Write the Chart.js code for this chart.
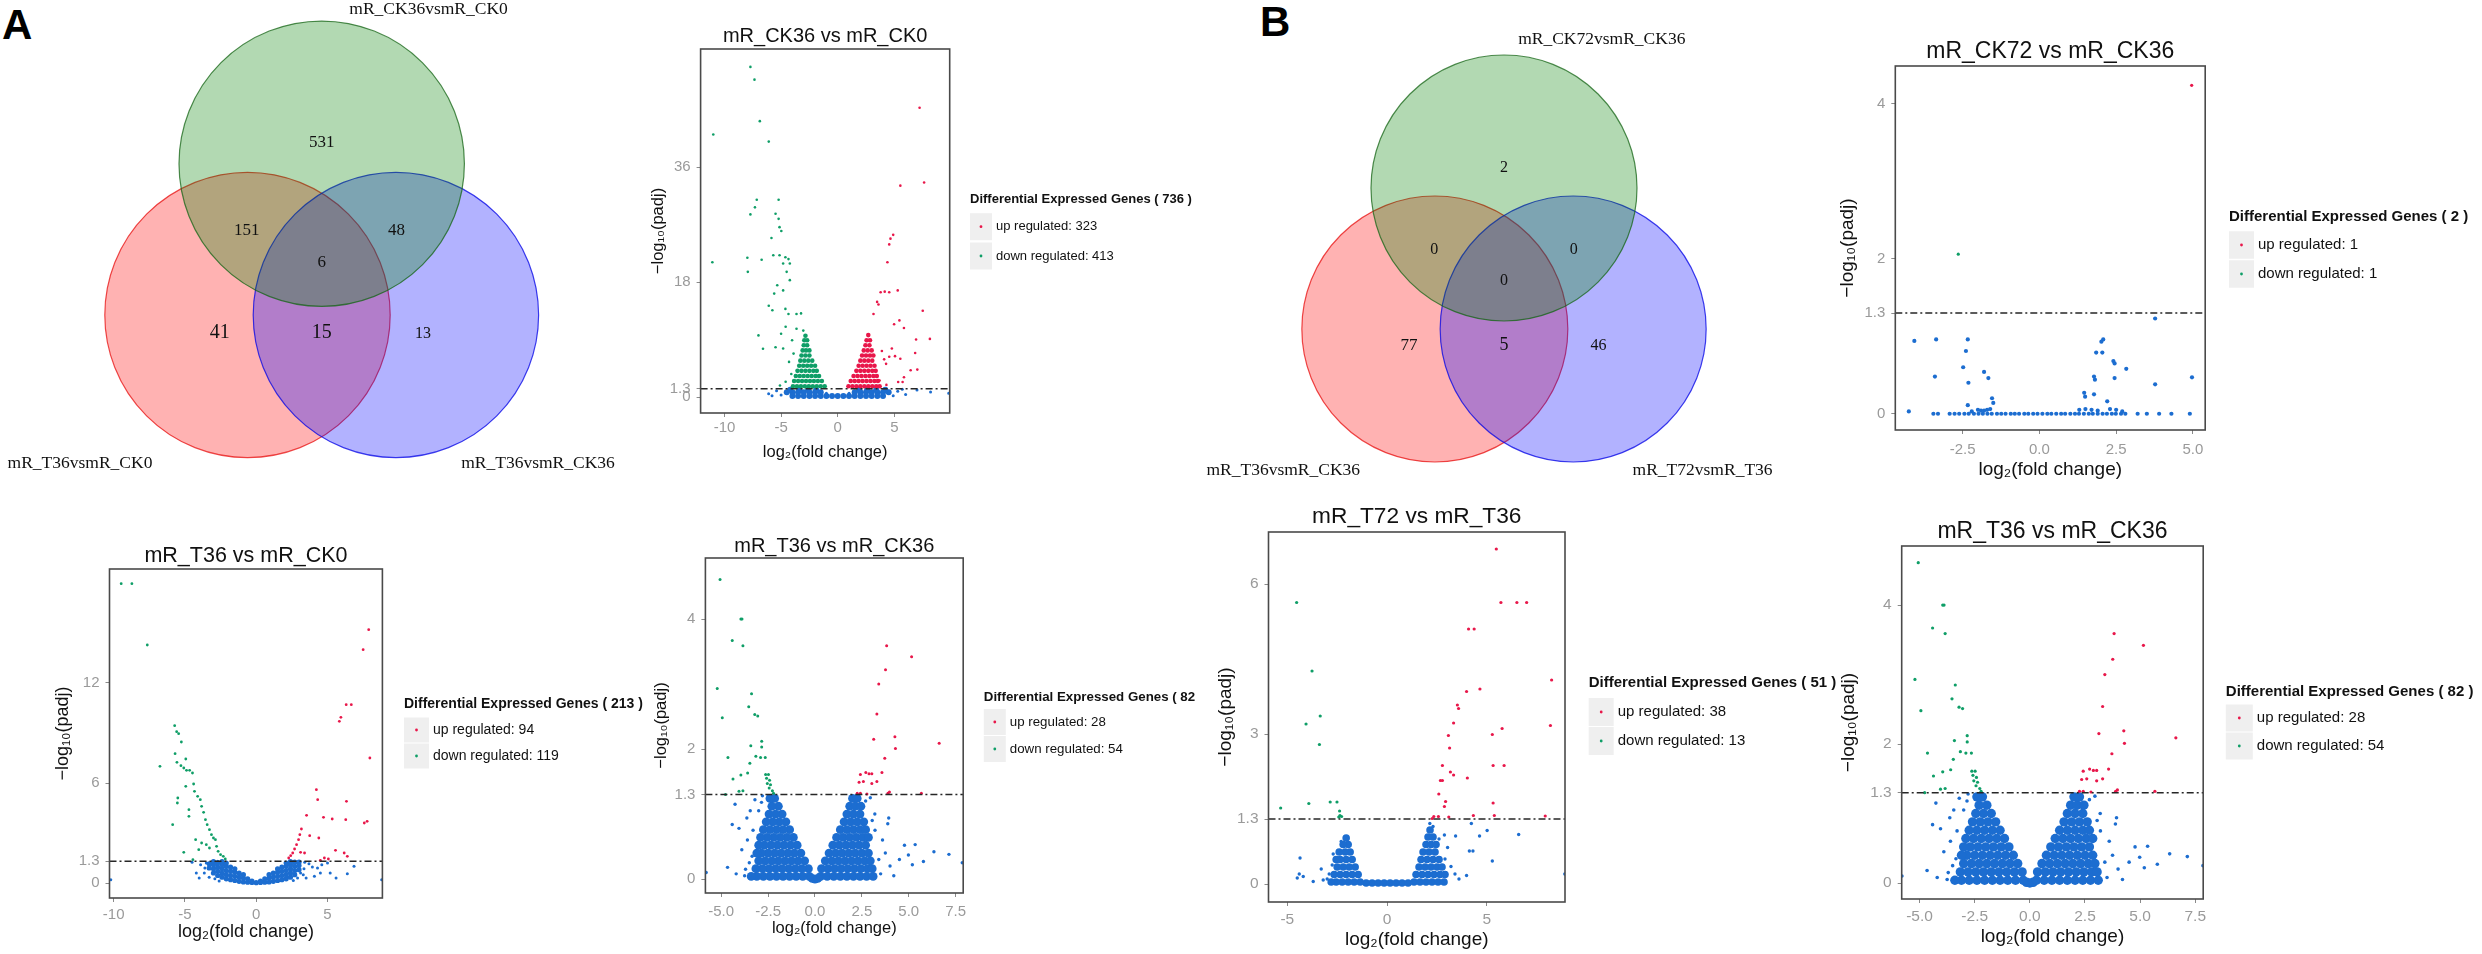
<!DOCTYPE html>
<html>
<head>
<meta charset="utf-8">
<script src="https://cdn.jsdelivr.net/npm/chart.js@4.4.1/dist/chart.umd.min.js"></script>
<style>
  html, body { margin: 0; padding: 0; background: #fff; }
  body { width: 2482px; height: 954px; position: relative; overflow: hidden; }
  canvas { position: absolute; }
  .letter { position: absolute; font: bold 42px 'Liberation Sans', Arial, sans-serif; line-height: 1; color: #000; }
</style>
</head>
<body>
<div class="letter" style="left:2px;top:4px">A</div>
<div class="letter" style="left:1260px;top:1px">B</div>
<script>
// ---------- Venn data ----------
const vennSetsA = ['mR_CK36vsmR_CK0', 'mR_T36vsmR_CK0', 'mR_T36vsmR_CK36'];
const vennCountsA = [531, 151, 48, 6, 41, 15, 13];
const vennSetsB = ['mR_CK72vsmR_CK36', 'mR_T36vsmR_CK36', 'mR_T72vsmR_T36'];
const vennCountsB = [2, 0, 0, 0, 77, 5, 46];

// ---------- volcano data: [log2FC, -log10 padj] ----------
const PADJ_CUT = 1.3;

// mR_CK36 vs mR_CK0
const a1Up = [[7.23,45.3],[7.63,33.6],[5.53,33.1],[4.9,25.4],[4.66,24.8],[4.55,23.9],[4.39,21.1],[3.79,16.4],[4.15,16.5],[4.55,16.4],[5.3,16.7],[3.48,14.9],[3.6,14.5],[7.51,13.5],[3.16,13.0],[5.45,12.0],[4.98,11.4],[5.85,10.8],[6.92,9.0],[8.14,9.1],[4.78,7.6],[6.84,6.9],[4.55,6.3],[5.06,6.4],[5.53,6.0],[4.27,5.2],[7.03,4.3],[6.44,4.2],[5.85,3.1],[5.34,2.35],[5.73,2.35],[3.9,7.2],[4.1,5.9],[3.7,2.6],[4.3,1.9]];
const a1UpCore = [[0.95,1.7],[1.3,1.7],[1.65,1.7],[2.0,1.7],[2.35,1.7],[2.7,1.7],[3.05,1.7],[3.4,1.7],[3.7,1.7],
  [1.15,2.5],[1.5,2.5],[1.85,2.5],[2.2,2.5],[2.55,2.5],[2.9,2.5],[3.25,2.5],[3.55,2.5],
  [1.4,3.3],[1.75,3.3],[2.1,3.3],[2.45,3.3],[2.8,3.3],[3.15,3.3],[3.45,3.3],
  [1.65,4.1],[2.0,4.1],[2.35,4.1],[2.7,4.1],[3.05,4.1],[3.35,4.1],
  [1.85,4.9],[2.2,4.9],[2.55,4.9],[2.9,4.9],[3.25,4.9],
  [2.0,5.7],[2.35,5.7],[2.7,5.7],[3.05,5.7],
  [2.15,6.5],[2.5,6.5],[2.85,6.5],[3.15,6.5],
  [2.3,7.3],[2.65,7.3],[3.0,7.3],[2.45,8.1],[2.8,8.1],[2.55,8.9],[2.85,8.9],[2.7,9.7]];
const a1Down = [[-7.71,51.7],[-7.35,49.7],[-6.88,43.2],[-10.99,41.1],[-6.09,40.0],[-7.15,30.9],[-5.22,30.9],[-7.31,29.7],[-7.71,28.6],[-5.49,28.7],[-5.22,27.9],[-5.14,26.6],[-4.98,26.0],[-5.85,24.9],[-11.07,21.1],[-7.98,21.8],[-7.94,19.6],[-6.72,21.5],[-5.69,22.2],[-5.14,22.2],[-4.62,21.9],[-4.35,21.6],[-4.82,20.9],[-4.23,20.9],[-4.51,19.6],[-5.34,17.5],[-4.23,18.3],[-5.61,16.2],[-4.82,16.7],[-6.09,14.3],[-5.77,13.6],[-4.62,13.8],[-4.35,13.0],[-3.64,13.0],[-3.24,13.1],[-7.0,9.65],[-6.6,7.56],[-5.49,7.8],[-4.82,7.6],[-4.03,8.9],[-5.0,9.9],[-4.6,11.0],[-3.64,10.7],[-3.04,10.4],[-4.3,5.5],[-3.9,6.8],[-4.1,3.6],[-4.6,2.4],[-5.1,1.8]];
const a1DownCore = [[-3.95,1.7],[-3.6,1.7],[-3.25,1.7],[-2.9,1.7],[-2.55,1.7],[-2.2,1.7],[-1.85,1.7],[-1.5,1.7],[-1.15,1.7],
  [-3.85,2.5],[-3.5,2.5],[-3.15,2.5],[-2.8,2.5],[-2.45,2.5],[-2.1,2.5],[-1.75,2.5],[-1.4,2.5],
  [-3.7,3.3],[-3.35,3.3],[-3.0,3.3],[-2.65,3.3],[-2.3,3.3],[-1.95,3.3],[-1.65,3.3],
  [-3.55,4.1],[-3.2,4.1],[-2.85,4.1],[-2.5,4.1],[-2.15,4.1],[-1.85,4.1],
  [-3.4,4.9],[-3.05,4.9],[-2.7,4.9],[-2.35,4.9],[-2.0,4.9],
  [-3.3,5.7],[-2.95,5.7],[-2.6,5.7],[-2.25,5.7],
  [-3.2,6.5],[-2.85,6.5],[-2.5,6.5],[-3.1,7.3],[-2.8,7.3],[-2.5,7.3],
  [-3.0,8.1],[-2.7,8.1],[-2.95,8.9],[-2.7,8.9],[-2.85,9.6]];
const a1NsCore = [[-4.0,0.15],[-3.5,0.15],[-3.0,0.15],[-2.5,0.15],[-2.0,0.15],[-1.5,0.15],[-1.0,0.15],[-0.5,0.15],[0,0.15],[0.5,0.15],[1.0,0.15],[1.5,0.15],[2.0,0.15],[2.5,0.15],[3.0,0.15],[3.5,0.15],[4.0,0.15],
  [-4.5,0.75],[-4.0,0.75],[-3.5,0.75],[-3.0,0.75],[-2.5,0.75],[-2.0,0.75],[-1.5,0.75],[1.5,0.75],[2.0,0.75],[2.5,0.75],[3.0,0.75],[3.5,0.75],[4.0,0.75],[4.5,0.75],
  [-4.2,1.15],[-3.4,1.15],[-2.6,1.15],[-1.9,1.15],[1.9,1.15],[2.6,1.15],[3.4,1.15],[4.2,1.15]];
const a1NsSparse = [[-5.4,1.0],[-6.1,0.5],[-5.0,0.3],[-5.8,0.2],[5.3,0.9],[6.0,0.4],[7.0,1.1],[8.2,0.8],[9.8,0.6],[5.7,1.2],[4.9,0.2],[-1.0,0.6],[1.0,0.6]];

// mR_T36 vs mR_CK0
const a2Up = [[7.89,15.2],[7.5,14.0],[6.31,10.7],[6.67,10.7],[5.94,9.94],[5.83,9.7],[7.97,7.5],[4.22,5.6],[4.31,5.0],[6.33,4.9],[4.72,3.94],[5.33,3.84],[6.28,3.8],[7.58,3.6],[7.78,3.7],[3.53,4.06],[3.17,3.24],[3.06,2.9],[3.75,2.84],[4.39,2.7],[2.97,2.6],[2.83,2.3],[2.69,2.04],[2.56,1.8],[2.42,1.64],[2.28,1.5],[3.11,1.84],[3.39,1.8],[5.56,1.96],[6.17,1.8],[4.78,1.5],[5.06,1.44],[4.5,1.36],[6.39,1.6]];
const a2Down = [[-9.47,17.96],[-8.72,17.96],[-7.64,14.28],[-5.72,9.44],[-5.58,9.08],[-5.44,8.96],[-5.25,8.46],[-5.69,7.76],[-5.56,7.24],[-4.94,7.44],[-6.75,7.0],[-5.28,7.04],[-5.08,6.9],[-4.89,6.76],[-4.67,6.76],[-4.47,6.6],[-4.94,5.8],[-4.39,5.94],[-4.33,5.5],[-4.11,5.2],[-3.92,5.0],[-3.83,4.6],[-5.5,5.1],[-5.53,4.8],[-4.72,4.4],[-4.72,4.0],[-3.69,4.24],[-3.56,3.8],[-3.44,3.5],[-5.86,3.5],[-3.28,3.2],[-3.14,2.9],[-3.0,2.7],[-2.86,2.6],[-4.25,2.6],[-3.83,2.4],[-4.03,2.0],[-3.5,2.3],[-3.28,2.1],[-2.78,2.2],[-2.67,1.9],[-2.5,1.7],[-2.31,1.6],[-2.17,1.44],[-5.08,1.84],[-4.44,1.4]];
const a2NsCore = [[0,0.02],[-0.3,0.03],[-0.3,0.12],[-0.6,0.05],[-0.6,0.25],[-0.9,0.06],[-0.9,0.3],[-0.9,0.5],[-1.2,0.1],[-1.2,0.35],[-1.2,0.6],[-1.5,0.15],[-1.5,0.4],[-1.5,0.65],[-1.5,0.85],[-1.8,0.2],[-1.8,0.45],[-1.8,0.7],[-1.8,0.95],[-2.1,0.25],[-2.1,0.5],[-2.1,0.75],[-2.1,1.0],[-2.1,1.2],[-2.4,0.35],[-2.4,0.6],[-2.4,0.85],[-2.4,1.1],[-2.4,1.28],[-2.7,0.45],[-2.7,0.7],[-2.7,0.95],[-2.7,1.2],[-3.0,0.6],[-3.0,0.85],[-3.0,1.1],[-3.0,1.28],[-3.3,0.9],[-3.3,1.15],
  [0.3,0.03],[0.3,0.12],[0.6,0.05],[0.6,0.25],[0.9,0.06],[0.9,0.3],[0.9,0.5],[1.2,0.1],[1.2,0.35],[1.2,0.6],[1.5,0.15],[1.5,0.4],[1.5,0.65],[1.5,0.85],[1.8,0.2],[1.8,0.45],[1.8,0.7],[1.8,0.95],[2.1,0.25],[2.1,0.5],[2.1,0.75],[2.1,1.0],[2.1,1.2],[2.4,0.35],[2.4,0.6],[2.4,0.85],[2.4,1.1],[2.4,1.28],[2.7,0.5],[2.7,0.75],[2.7,1.0],[2.7,1.25],[3.0,0.8],[3.0,1.05],[3.0,1.25]];
const a2NsSparse = [[-3.64,0.6],[-3.3,0.35],[-2.9,0.25],[-2.6,0.12],[-3.9,1.1],[-4.2,0.6],[-4.5,1.25],[-4.0,0.3],[-3.6,0.9],[-3.5,1.2],[3.11,0.6],[3.94,0.96],[4.08,0.4],[4.5,0.6],[4.6,1.1],[5.19,0.6],[5.6,0.3],[6.39,0.56],[6.86,1.0],[5.0,1.2],[3.4,1.25],[3.5,0.3],[3.3,0.5],[2.9,0.3],[2.6,0.15],[4.3,0.9],[3.7,1.15],[3.35,0.85],[-10.2,0.2],[8.8,0.2],[-2.7,1.3]];

// mR_T36 vs mR_CK36 (shown in A and B)
const t36Up = [[3.82,3.59],[5.15,3.42],[3.76,3.22],[3.4,3.0],[3.3,2.54],[3.13,2.15],[4.26,2.19],[6.62,2.09],[4.29,2.01],[3.72,1.86],[3.57,1.64],[2.42,1.61],[2.71,1.64],[2.88,1.62],[3.03,1.62],[2.35,1.49],[2.58,1.5],[3.03,1.47],[3.3,1.5],[2.25,1.32],[2.42,1.32],[2.77,1.31],[3.89,1.32],[5.67,1.32],[3.97,1.34]];
const t36Down = [[-5.06,4.61],[-3.95,4.0],[-3.89,4.0],[-4.41,3.67],[-3.84,3.59],[-5.21,2.93],[-3.38,2.85],[-4.94,2.48],[-3.53,2.65],[-3.21,2.53],[-3.05,2.51],[-2.84,2.12],[-3.42,2.05],[-2.84,2.03],[-4.64,1.87],[-3.15,1.89],[-2.9,1.87],[-2.65,1.87],[-3.47,1.78],[-4.37,1.54],[-3.95,1.6],[-3.59,1.63],[-3.84,1.36],[-4.05,1.35],[-2.63,1.61],[-2.48,1.61],[-2.58,1.55],[-2.42,1.52],[-2.54,1.47],[-2.37,1.45],[-2.44,1.4],[-2.27,1.36],[-2.21,1.32],[-4.77,1.3]];
const t36NsCore = [[0,0.0],[-0.15,0.01],[0.15,0.01],
  [-0.3,0.04],[-0.65,0.04],[-1.0,0.04],[-1.35,0.04],[-1.7,0.04],[-2.05,0.04],[-2.4,0.04],[-2.75,0.04],[-3.1,0.04],[-3.4,0.04],
  [-0.35,0.16],[-0.7,0.16],[-1.05,0.16],[-1.4,0.16],[-1.75,0.16],[-2.1,0.16],[-2.45,0.16],[-2.8,0.16],[-3.15,0.16],
  [-0.55,0.28],[-0.9,0.28],[-1.25,0.28],[-1.6,0.28],[-1.95,0.28],[-2.3,0.28],[-2.65,0.28],[-3.0,0.28],
  [-0.75,0.4],[-1.1,0.4],[-1.45,0.4],[-1.8,0.4],[-2.15,0.4],[-2.5,0.4],[-2.85,0.4],[-3.1,0.4],
  [-0.95,0.52],[-1.3,0.52],[-1.65,0.52],[-2.0,0.52],[-2.35,0.52],[-2.7,0.52],[-3.0,0.52],
  [-1.15,0.64],[-1.5,0.64],[-1.85,0.64],[-2.2,0.64],[-2.55,0.64],[-2.9,0.64],
  [-1.35,0.76],[-1.7,0.76],[-2.05,0.76],[-2.4,0.76],[-2.75,0.76],
  [-1.55,0.88],[-1.9,0.88],[-2.25,0.88],[-2.6,0.88],
  [-1.75,1.0],[-2.1,1.0],[-2.45,1.0],[-1.95,1.12],[-2.3,1.12],[-2.15,1.24],[-2.4,1.24],
  [0.3,0.04],[0.65,0.04],[1.0,0.04],[1.35,0.04],[1.7,0.04],[2.05,0.04],[2.4,0.04],[2.75,0.04],[3.1,0.04],
  [0.35,0.16],[0.7,0.16],[1.05,0.16],[1.4,0.16],[1.75,0.16],[2.1,0.16],[2.45,0.16],[2.8,0.16],[3.05,0.16],
  [0.55,0.28],[0.9,0.28],[1.25,0.28],[1.6,0.28],[1.95,0.28],[2.3,0.28],[2.65,0.28],[2.95,0.28],
  [0.75,0.4],[1.1,0.4],[1.45,0.4],[1.8,0.4],[2.15,0.4],[2.5,0.4],[2.85,0.4],
  [0.95,0.52],[1.3,0.52],[1.65,0.52],[2.0,0.52],[2.35,0.52],[2.7,0.52],
  [1.15,0.64],[1.5,0.64],[1.85,0.64],[2.2,0.64],[2.55,0.64],[2.85,0.64],
  [1.35,0.76],[1.7,0.76],[2.05,0.76],[2.4,0.76],[2.7,0.76],
  [1.55,0.88],[1.9,0.88],[2.25,0.88],[2.6,0.88],
  [1.7,1.0],[2.05,1.0],[2.4,1.0],[1.85,1.12],[2.15,1.12],[2.45,1.12],[2.0,1.24],[2.25,1.24]];
const t36NsSparse = [[-4.66,0.18],[-4.41,0.84],[-4.05,0.78],[-4.26,1.15],[-3.63,0.94],[-3.0,1.05],[-3.9,0.45],[-3.5,0.25],[-3.7,0.15],[-3.6,0.6],[-3.3,0.75],[-3.45,1.05],[-3.2,1.22],[-2.85,1.18],[-4.2,0.08],[-3.75,0.05],[-2.8,1.28],[-3.35,0.35],
  [3.19,1.0],[3.93,0.94],[3.88,0.85],[4.77,0.52],[5.34,0.53],[4.98,0.37],[6.34,0.42],[7.14,0.38],[5.78,0.27],[5.19,0.22],[4.5,0.3],[4.0,0.2],[3.6,0.6],[2.7,1.2],[3.2,0.75],[3.4,0.3],[3.5,0.08],[3.05,0.9],[2.95,1.25],[3.75,0.4],[4.2,0.05],[7.85,0.25],[-5.8,0.1]];

// mR_CK72 vs mR_CK36
const b1Up = [[4.96,4.24]];
const b1Down = [[-2.64,2.06]];
const b1Ns = [[-4.07,0.94],[-3.36,0.96],[-3.4,0.48],[-4.25,0.03],[-3.45,0],[-3.3,0],[-2.33,0.96],[-2.39,0.81],[-2.48,0.6],[-2.31,0.4],[-2.33,0.11],[-1.8,0.54],[-1.66,0.46],[-1.54,0.2],[-1.5,0.14],[-1.9,0.04],[-1.7,0.05],
  [2.08,0.96],[2.02,0.93],[1.85,0.79],[2.05,0.79],[2.41,0.68],[2.45,0.65],[2.83,0.58],[1.78,0.48],[1.81,0.44],[2.45,0.46],[1.46,0.27],[1.49,0.22],[1.78,0.25],[2.21,0.16],[3.77,1.23],[3.77,0.38],[4.97,0.47],
  [-2.92,0],[-2.76,0],[-2.61,0],[-2.44,0],[-2.3,0],[-2.13,0],[-1.98,0],[-1.84,0],[-1.69,0],[-1.55,0],[-1.38,0],[-1.24,0],[-1.1,0],[-0.93,0],[-0.8,0],[-0.66,0],[-0.49,0],[-0.36,0],[-0.2,0],[-0.06,0],[0.1,0],[0.26,0],[0.39,0],[0.55,0],[0.71,0],[0.84,0],[1.01,0],[1.16,0],[1.29,0],[1.45,0],[1.61,0],[1.74,0],[1.9,0],[2.06,0],[2.2,0],[2.36,0],[2.49,0],[2.66,0],[2.8,0],[3.2,0],[3.5,0],[3.9,0],[4.3,0],[4.9,0],
  [-2.2,0.03],[-2.0,0.05],[-1.8,0.04],[-1.6,0.06],[1.3,0.05],[1.5,0.06],[1.7,0.05],[1.9,0.04],[2.3,0.06],[2.5,0.05],[2.7,0.03]];

// mR_T72 vs mR_T36
const b2Up = [[5.47,6.7],[5.7,5.63],[6.5,5.63],[6.99,5.63],[4.08,5.1],[4.36,5.1],[8.24,4.08],[4.65,3.9],[3.98,3.85],[3.52,3.58],[3.58,3.51],[3.33,3.22],[5.76,3.11],[8.18,3.17],[3.07,2.97],[5.27,2.99],[3.13,2.72],[2.77,2.37],[5.31,2.37],[5.86,2.37],[3.17,2.24],[3.33,2.18],[4.02,2.12],[2.67,2.07],[2.77,2.07],[2.59,1.8],[2.93,1.65],[2.87,1.55],[5.31,1.62],[2.34,1.35],[2.57,1.35],[3.09,1.34],[4.32,1.37],[5.37,1.37],[7.92,1.36],[2.26,1.31]];
const b2Down = [[-4.53,5.63],[-3.76,4.26],[-3.35,3.36],[-4.06,3.2],[-3.39,2.79],[-5.33,1.52],[-3.92,1.61],[-2.85,1.64],[-2.51,1.64],[-2.38,1.46],[-2.36,1.37],[-2.28,1.35],[-2.42,1.34]];
const b2NsCore = [[-1.05,0.02],[-0.75,0.02],[-0.45,0.02],[-0.15,0.02],[0.15,0.02],[0.45,0.02],[0.75,0.02],[1.05,0.02],
  [-1.35,0.04],[-1.65,0.04],[-1.95,0.04],[-2.25,0.04],[-2.55,0.04],[-2.8,0.04],
  [-1.45,0.19],[-1.75,0.19],[-2.05,0.19],[-2.35,0.19],[-2.65,0.19],
  [-1.6,0.34],[-1.9,0.34],[-2.2,0.34],[-2.5,0.34],[-1.75,0.49],[-2.05,0.49],[-2.35,0.49],[-2.55,0.49],
  [-1.85,0.64],[-2.1,0.64],[-2.4,0.64],[-1.95,0.79],[-2.2,0.79],[-2.05,0.92],
  [1.35,0.04],[1.65,0.04],[1.95,0.04],[2.25,0.04],[2.55,0.04],[2.85,0.04],
  [1.45,0.19],[1.75,0.19],[2.05,0.19],[2.35,0.19],[2.65,0.19],[2.9,0.19],
  [1.6,0.34],[1.9,0.34],[2.2,0.34],[2.5,0.34],[2.75,0.34],[1.7,0.49],[2.0,0.49],[2.3,0.49],[2.6,0.49],
  [1.8,0.64],[2.1,0.64],[2.4,0.64],[1.95,0.79],[2.2,0.79],[2.45,0.79],[2.05,0.94],[2.3,0.94],[2.15,1.08]];
const b2NsSparse = [[-4.36,0.52],[-4.4,0.2],[-4.2,0.15],[-4.5,0.12],[-3.7,0.05],[-3.2,0.08],[-2.9,0.2],[-2.75,0.38],[-3.3,0.3],[-3.0,0.1],[-2.7,0.6],[-2.3,0.85],
  [2.87,0.98],[3.43,0.96],[3.03,0.73],[4.12,0.66],[4.3,0.66],[4.22,1.21],[4.63,0.96],[5.01,1.07],[6.59,0.99],[5.27,0.46],[3.98,0.17],[3.4,0.2],[2.9,0.5],[3.6,0.1],[8.9,0.2],[3.2,0.35],[2.6,0.9],[2.14,1.21],[2.3,1.15]];

// DEG counts per comparison (legend)
const upCounts = { a1: 323, a2: 94, a3: 28, b1: 1, b2: 38, b3: 28 };
const downCounts = { a1: 413, a2: 119, a3: 54, b1: 1, b2: 13, b3: 54 };

// axis ticks
const ticksX10 = [-10, -5, 0, 5];
const ticksX10Labels = ['-10', '-5', '0', '5'];
const ticksX25 = [-5, -2.5, 0, 2.5, 5, 7.5];
const ticksX25Labels = ['-5.0', '-2.5', '0.0', '2.5', '5.0', '7.5'];
const ticksXb1 = [-2.5, 0, 2.5, 5];
const ticksXb1Labels = ['-2.5', '0.0', '2.5', '5.0'];
const ticksXb2 = [-5, 0, 5];
const ticksXb2Labels = ['-5', '0', '5'];
const ticksYa1 = [0, 1.3, 18, 36];
const ticksYa2 = [0, 1.3, 6, 12];
const ticksY4 = [0, 1.3, 2, 4];
const ticksYb2 = [0, 1.3, 3, 6];

// ---------- styling ----------
const FONT = "'Liberation Sans', Arial, Helvetica, sans-serif";
const SERIF = "'Liberation Serif', 'Times New Roman', serif";
const UP = '#e8174a', DOWN = '#0f9e67', NS = '#1c6dd0';
const TICK_TXT = '#9a9a9a', TICK_LINE = '#8a8a8a';
Chart.defaults.font.family = FONT;

const toXY = pts => pts.map(([x, y]) => ({ x, y }));

function addCanvas(r) {
  const cv = document.createElement('canvas');
  cv.width = r.r - r.l; cv.height = r.b - r.t;
  cv.style.left = r.l + 'px'; cv.style.top = r.t + 'px';
  cv.style.width = cv.width + 'px'; cv.style.height = cv.height + 'px';
  document.body.appendChild(cv);
  return cv;
}

// grey border around the panel, drawn over the points
const panelFrame = {
  id: 'panelFrame',
  afterDatasetsDraw(chart) {
    const { ctx, chartArea: a } = chart;
    ctx.save();
    ctx.strokeStyle = '#4a4a4a'; ctx.lineWidth = 1.6;
    ctx.strokeRect(a.left, a.top, a.right - a.left, a.bottom - a.top);
    ctx.restore();
  }
};

// ggplot-like legend with grey keys
function degLegend(o) {
  return {
    id: 'degLegend',
    afterDraw(chart) {
      const ctx = chart.ctx;
      ctx.save();
      ctx.textBaseline = 'middle'; ctx.textAlign = 'left';
      ctx.fillStyle = '#111';
      ctx.font = `bold ${o.size}px ${FONT}`;
      ctx.fillText(o.title, o.x, o.titleY);
      o.items.forEach((it, i) => {
        const y = o.rowY[i];
        ctx.fillStyle = '#efefef';
        ctx.fillRect(o.x, y - o.keyH / 2 + 0.5, o.keyW, o.keyH - 1);
        ctx.fillStyle = it.color;
        ctx.beginPath(); ctx.arc(o.x + o.keyW / 2, y, 1.4, 0, Math.PI * 2); ctx.fill();
        ctx.fillStyle = '#111';
        ctx.font = `${o.size}px ${FONT}`;
        ctx.fillText(it.text, o.x + o.keyW + 4, y);
      });
      ctx.restore();
    }
  };
}

// layers: [points, colour, radius], first one ends up on top
function volcano(d, L) {
  const c = L.canvas, b = L.box;
  const cv = addCanvas(c);
  const titleH = b.t - c.t;
  let tp = L.titleY - c.t - 0.6 * L.titleSize;
  let bp = titleH - tp - 1.2 * L.titleSize;
  if (bp < 0) { tp += bp; bp = 0; }
  const lg = L.legend;
  const legendPlugin = degLegend({
    title: `Differential Expressed Genes ( ${d.upN + d.downN} )`,
    x: lg.x - c.l, titleY: lg.titleY - c.t, rowY: lg.rowY.map(y => y - c.t),
    size: lg.size, keyW: lg.keyW, keyH: lg.keyH,
    items: [{ text: `up regulated: ${d.upN}`, color: UP }, { text: `down regulated: ${d.downN}`, color: DOWN }]
  });
  const pointSets = d.layers.map(([pts, color, r]) => ({
    data: toXY(pts), backgroundColor: color, borderWidth: 0, pointRadius: r, pointHoverRadius: r
  }));
  new Chart(cv, {
    type: 'scatter',
    data: {
      datasets: [
        { type: 'line', data: [{ x: d.xRange[0], y: PADJ_CUT }, { x: d.xRange[1], y: PADJ_CUT }],
          borderColor: '#262626', borderWidth: 1.5, borderDash: [7, 3, 2, 3], pointRadius: 0 },
        ...pointSets
      ]
    },
    options: {
      responsive: false, animation: false, events: [],
      layout: { padding: { left: 0, top: 0, bottom: 0, right: c.r - b.r } },
      scales: {
        x: {
          type: 'linear', min: d.xRange[0], max: d.xRange[1],
          afterBuildTicks: s => { s.ticks = d.xTicks.map(v => ({ value: v })); },
          afterFit: s => { s.height = c.b - b.b; },
          ticks: { autoSkip: false, maxRotation: 0, color: TICK_TXT, font: { size: L.tickSize },
            padding: L.xTickY - b.b - 4 - 0.6 * L.tickSize, callback: (v, i) => d.xLabels[i] },
          grid: { drawOnChartArea: false, tickLength: 4, color: TICK_LINE, tickColor: TICK_LINE },
          border: { display: false },
          title: { display: true, text: 'log₂(fold change)', color: '#111', font: { size: L.axisSize },
            padding: { top: 0, bottom: c.b - L.xTitleY - 0.6 * L.axisSize } }
        },
        y: {
          type: 'linear', min: d.yRange[0], max: d.yRange[1],
          afterBuildTicks: s => { s.ticks = d.yTicks.map(v => ({ value: v })); },
          afterFit: s => { s.width = b.l - c.l; },
          ticks: { autoSkip: false, color: TICK_TXT, font: { size: L.tickSize }, padding: 6,
            callback: v => String(v) },
          grid: { drawOnChartArea: false, tickLength: 4, color: TICK_LINE, tickColor: TICK_LINE },
          border: { display: false },
          title: { display: true, text: '−log₁₀(padj)', color: '#111', font: { size: L.axisSize },
            padding: { top: L.yTitleX - c.l - 0.6 * L.axisSize, bottom: 0 } }
        }
      },
      plugins: {
        legend: { display: false }, tooltip: { enabled: false },
        title: { display: true, text: d.title, fullSize: false, color: '#111',
          font: { size: L.titleSize, weight: 'normal' }, padding: { top: tp, bottom: bp } }
      }
    },
    plugins: [panelFrame, legendPlugin]
  });
}

// ---------- Venn ----------
const vennSetX = [0, -0.52, 0.52];   // top, left, right circle
const vennSetY = [1.06, 0, 0];
const vennFill = ['rgba(0,128,0,0.3)', 'rgba(255,0,0,0.3)', 'rgba(0,0,255,0.3)'];
const vennLine = ['rgba(20,100,20,0.75)', 'rgba(230,0,0,0.7)', 'rgba(0,0,230,0.75)'];
const vennRegionX = [0, -0.525, 0.525, 0, -0.715, 0, 0.71];
const vennRegionY = [1.21, 0.595, 0.595, 0.365, -0.126, -0.126, -0.13];

function venn(L, counts, names) {
  const c = L.canvas, u = L.unit, [ox, oy] = L.origin;
  const cv = addCanvas(c);
  const items = counts.map((n, i) => ({ text: String(n), x: vennRegionX[i], y: vennRegionY[i], size: L.countSize[i] }))
    .concat(names.map((s, i) => ({ text: s, x: L.nameX[i], y: L.nameY[i], size: 17.5 })));
  const textPlugin = {
    id: 'vennText',
    afterDatasetsDraw(chart) {
      const { ctx, scales: { x, y } } = chart;
      ctx.save();
      ctx.fillStyle = '#111'; ctx.textAlign = 'center'; ctx.textBaseline = 'middle';
      items.forEach(it => {
        ctx.font = `${it.size}px ${SERIF}`;
        ctx.fillText(it.text, x.getPixelForValue(it.x), y.getPixelForValue(it.y));
      });
      ctx.restore();
    }
  };
  const unitPx = ctx => {
    const s = ctx.chart.scales.x;
    return Math.abs(s.getPixelForValue(1) - s.getPixelForValue(0));
  };
  new Chart(cv, {
    type: 'scatter',
    data: {
      datasets: [0, 2, 1].map(i => ({
        data: [{ x: vennSetX[i], y: vennSetY[i] }],
        backgroundColor: vennFill[i], borderColor: vennLine[i], borderWidth: 1.2,
        pointRadius: unitPx, pointHoverRadius: unitPx
      }))
    },
    options: {
      responsive: false, animation: false, events: [],
      layout: { padding: 0 },
      scales: {
        x: { display: false, min: (c.l - ox) / u, max: (c.r - ox) / u },
        y: { display: false, min: (oy - c.b) / u, max: (oy - c.t) / u }
      },
      plugins: { legend: { display: false }, tooltip: { enabled: false } }
    },
    plugins: [textPlugin]
  });
}

venn({ canvas: { l: 0, t: 0, r: 660, b: 480 }, origin: [321.7, 315], unit: 142.7,
  countSize: [17, 17, 17, 17, 20, 20, 16], nameX: [0.749, -1.694, 1.516], nameY: [2.141, -1.037, -1.037] },
  vennCountsA, vennSetsA);
venn({ canvas: { l: 1190, t: 0, r: 1790, b: 482 }, origin: [1504, 329], unit: 133,
  countSize: [16, 16, 16, 16, 17, 18, 16], nameX: [0.735, -1.66, 1.493], nameY: [2.178, -1.06, -1.06] },
  vennCountsB, vennSetsB);

// ---------- volcano panels ----------
volcano({ title: 'mR_CK36 vs mR_CK0', upN: upCounts.a1, downN: downCounts.a1,
  layers: [[a1Up, UP, 1.3], [a1UpCore, UP, 2.3], [a1Down, DOWN, 1.3], [a1DownCore, DOWN, 2.3], [a1NsSparse, NS, 1.5], [a1NsCore, NS, 3]],
  xRange: [-12.11, 9.89], yRange: [-2.5, 54.5], xTicks: ticksX10, xLabels: ticksX10Labels, yTicks: ticksYa1 },
  { canvas: { l: 605, t: 4, r: 1200, b: 470 }, box: { l: 700.6, t: 49, r: 949.7, b: 413 },
    titleY: 36, titleSize: 20, yTitleX: 658, xTitleY: 452, axisSize: 16.5, tickSize: 15, xTickY: 428,
    legend: { x: 970, titleY: 199, rowY: [226.7, 256], size: 13, keyW: 22, keyH: 28 } });

volcano({ title: 'mR_T36 vs mR_CK0', upN: upCounts.a2, downN: downCounts.a2,
  layers: [[a2Up, UP, 1.4], [a2Down, DOWN, 1.4], [a2NsSparse, NS, 1.5], [a2NsCore, NS, 2.6]],
  xRange: [-10.29, 8.85], yRange: [-0.9, 18.84], xTicks: ticksX10, xLabels: ticksX10Labels, yTicks: ticksYa2 },
  { canvas: { l: 14, t: 524, r: 660, b: 954 }, box: { l: 109.5, t: 569, r: 382.4, b: 898 },
    titleY: 557, titleSize: 21.5, yTitleX: 63, xTitleY: 932, axisSize: 18, tickSize: 15, xTickY: 915,
    legend: { x: 404, titleY: 704, rowY: [730, 756], size: 14, keyW: 25, keyH: 26 } });

volcano({ title: 'mR_T36 vs mR_CK36', upN: upCounts.a3, downN: downCounts.a3,
  layers: [[t36Up, UP, 1.5], [t36Down, DOWN, 1.5], [t36NsSparse, NS, 1.7], [t36NsCore, NS, 4.4]],
  xRange: [-5.84, 7.9], yRange: [-0.215, 4.94], xTicks: ticksX25, xLabels: ticksX25Labels, yTicks: ticksY4 },
  { canvas: { l: 610, t: 513, r: 1196, b: 954 }, box: { l: 705.4, t: 558, r: 963.2, b: 893 },
    titleY: 546, titleSize: 20, yTitleX: 661.5, xTitleY: 928, axisSize: 16.5, tickSize: 15, xTickY: 911.7,
    legend: { x: 983.8, titleY: 697, rowY: [722, 749], size: 13.3, keyW: 22, keyH: 27 } });

volcano({ title: 'mR_CK72 vs mR_CK36', upN: upCounts.b1, downN: downCounts.b1,
  layers: [[b1Up, UP, 1.6], [b1Down, DOWN, 1.6], [b1Ns, NS, 2.1]],
  xRange: [-4.69, 5.40], yRange: [-0.21, 4.49], xTicks: ticksXb1, xLabels: ticksXb1Labels, yTicks: ticksY4 },
  { canvas: { l: 1800, t: 21, r: 2482, b: 485 }, box: { l: 1895.3, t: 66, r: 2205.2, b: 430 },
    titleY: 52, titleSize: 23, yTitleX: 1848, xTitleY: 470, axisSize: 19, tickSize: 15, xTickY: 450,
    legend: { x: 2229, titleY: 217, rowY: [245, 274], size: 15, keyW: 25, keyH: 28.5 } });

volcano({ title: 'mR_T72 vs mR_T36', upN: upCounts.b2, downN: downCounts.b2,
  layers: [[b2Up, UP, 1.6], [b2Down, DOWN, 1.6], [b2NsSparse, NS, 1.7], [b2NsCore, NS, 3.8]],
  xRange: [-5.94, 8.91], yRange: [-0.36, 7.04], xTicks: ticksXb2, xLabels: ticksXb2Labels, yTicks: ticksYb2 },
  { canvas: { l: 1200, t: 487, r: 1845, b: 954 }, box: { l: 1268.5, t: 532, r: 1565, b: 902 },
    titleY: 517, titleSize: 22.7, yTitleX: 1226, xTitleY: 940, axisSize: 19, tickSize: 15.5, xTickY: 920,
    legend: { x: 1588.7, titleY: 683, rowY: [712, 741], size: 15, keyW: 25, keyH: 29 } });

volcano({ title: 'mR_T36 vs mR_CK36', upN: upCounts.b3, downN: downCounts.b3,
  layers: [[t36Up, UP, 1.6], [t36Down, DOWN, 1.6], [t36NsSparse, NS, 1.8], [t36NsCore, NS, 4.7]],
  xRange: [-5.81, 7.86], yRange: [-0.23, 4.85], xTicks: ticksX25, xLabels: ticksX25Labels, yTicks: ticksY4 },
  { canvas: { l: 1830, t: 501, r: 2482, b: 954 }, box: { l: 1901.7, t: 546, r: 2203.2, b: 899 },
    titleY: 532, titleSize: 23, yTitleX: 1849, xTitleY: 937, axisSize: 19, tickSize: 15.5, xTickY: 917,
    legend: { x: 2225.8, titleY: 692, rowY: [718, 746], size: 15, keyW: 27, keyH: 28 } });
</script>
</body>
</html>
